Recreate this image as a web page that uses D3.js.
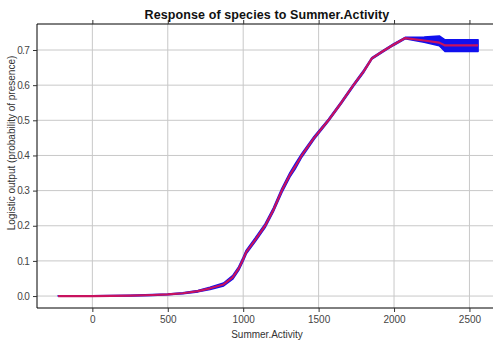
<!DOCTYPE html>
<html>
<head>
<meta charset="utf-8">
<script src="https://cdn.jsdelivr.net/npm/d3@7"></script>
<style>
  html, body { margin: 0; padding: 0; background: #fff; }
  svg { display: block; font-family: "Liberation Sans", Arial, sans-serif; }
</style>
</head>
<body>
<svg id="chart" width="493" height="343"></svg>
<script>
// Response curve: Summer.Activity vs logistic output
const activity  = [-227, 0, 250, 400, 500, 600, 700, 780, 870, 930, 970, 1000, 1020, 1080, 1145, 1200, 1256, 1310, 1344, 1388, 1470, 1565, 1650, 1731, 1800, 1853, 1920, 1996, 2074, 2200, 2300, 2338, 2450, 2557];
const meanResp  = [0, 0, 0.001, 0.003, 0.005, 0.008, 0.014, 0.022, 0.033, 0.053, 0.078, 0.105, 0.125, 0.16, 0.2, 0.245, 0.3, 0.345, 0.368, 0.4, 0.45, 0.5, 0.55, 0.6, 0.64, 0.676, 0.695, 0.715, 0.734, 0.727, 0.721, 0.713, 0.713, 0.713];
const upperResp = [0.001, 0.001, 0.002, 0.004, 0.006, 0.009, 0.016, 0.025, 0.037, 0.058, 0.083, 0.11, 0.13, 0.165, 0.205, 0.25, 0.306, 0.351, 0.375, 0.405, 0.454, 0.503, 0.553, 0.603, 0.643, 0.678, 0.697, 0.717, 0.736, 0.737, 0.74, 0.729, 0.729, 0.729];
const lowerResp = [0, 0, 0, 0.002, 0.004, 0.007, 0.012, 0.019, 0.029, 0.048, 0.073, 0.1, 0.12, 0.155, 0.195, 0.24, 0.294, 0.339, 0.361, 0.395, 0.446, 0.497, 0.547, 0.597, 0.637, 0.674, 0.693, 0.713, 0.732, 0.722, 0.712, 0.696, 0.696, 0.696];
const xTicks = [0, 500, 1000, 1500, 2000, 2500];
const yTicks = [0, 0.1, 0.2, 0.3, 0.4, 0.5, 0.6, 0.7];

const svg = d3.select("#chart");
const plotLeft = 37, plotRight = 496, plotTop = 24, plotBottom = 308;

const x = d3.scaleLinear().domain([-367, 2676]).range([plotLeft, plotRight]);
const y = d3.scaleLinear().domain([-0.034, 0.774]).range([plotBottom, plotTop]);

// gridlines
svg.append("g").selectAll("line").data(xTicks).join("line")
  .attr("x1", d => x(d)).attr("x2", d => x(d))
  .attr("y1", plotTop).attr("y2", plotBottom)
  .attr("stroke", "#c8c8c8").attr("stroke-width", 1);
svg.append("g").selectAll("line").data(yTicks).join("line")
  .attr("x1", plotLeft).attr("x2", plotRight)
  .attr("y1", d => y(d)).attr("y2", d => y(d))
  .attr("stroke", "#c8c8c8").attr("stroke-width", 1);

const pts = activity.map((a, i) => ({a, m: meanResp[i], u: upperResp[i], l: lowerResp[i]}));

// +/- one standard deviation band
const band = d3.area().x(d => x(d.a)).y0(d => y(d.l)).y1(d => y(d.u));
svg.append("path").datum(pts).attr("d", band)
  .attr("fill", "#1010ee").attr("stroke", "#1010ee")
  .attr("stroke-width", 1.6).attr("stroke-linejoin", "round");

// mean response
const line = d3.line().x(d => x(d.a)).y(d => y(d.m));
svg.append("path").datum(pts).attr("d", line)
  .attr("fill", "none").attr("stroke", "#c8125e")
  .attr("stroke-width", 2.2).attr("stroke-linejoin", "round");

// frame
svg.append("path")
  .attr("d", `M${plotRight},${plotTop}H${plotLeft}V${plotBottom}H${plotRight}`)
  .attr("fill", "none").attr("stroke", "#000").attr("stroke-width", 1);

// axes
const xAxis = svg.append("g").attr("transform", `translate(0,${plotBottom})`)
  .call(d3.axisBottom(x).tickValues(xTicks).tickSize(4).tickPadding(4).tickFormat(d3.format("d")));
const xTop = svg.append("g").attr("transform", `translate(0,${plotTop})`)
  .call(d3.axisTop(x).tickValues(xTicks).tickSize(4).tickFormat(""));
const yAxis = svg.append("g").attr("transform", `translate(${plotLeft},0)`)
  .call(d3.axisLeft(y).tickValues(yTicks).tickSize(4).tickPadding(4).tickFormat(d3.format(".1f")));
[xAxis, xTop, yAxis].forEach(g => {
  g.select(".domain").remove();
  g.selectAll(".tick line").attr("stroke", "#333");
  g.selectAll("text").attr("fill", "#444").style("font-size", "10px")
    .style("font-family", "'Liberation Sans', Arial, sans-serif");
});
yAxis.selectAll("text").style("letter-spacing", "-0.7px");

// title and axis labels
svg.append("text").attr("x", 267).attr("y", 19).attr("text-anchor", "middle")
  .style("font-size", "12.5px").style("font-weight", "bold").style("letter-spacing", "0.1px")
  .attr("fill", "#111")
  .text("Response of species to Summer.Activity");
svg.append("text").attr("x", 267).attr("y", 338).attr("text-anchor", "middle")
  .style("font-size", "10px").attr("fill", "#333").text("Summer.Activity");
svg.append("text").attr("transform", "translate(15,143) rotate(-90)").attr("text-anchor", "middle")
  .style("font-size", "10px").attr("fill", "#333").text("Logistic output (probability of presence)");
</script>
</body>
</html>
